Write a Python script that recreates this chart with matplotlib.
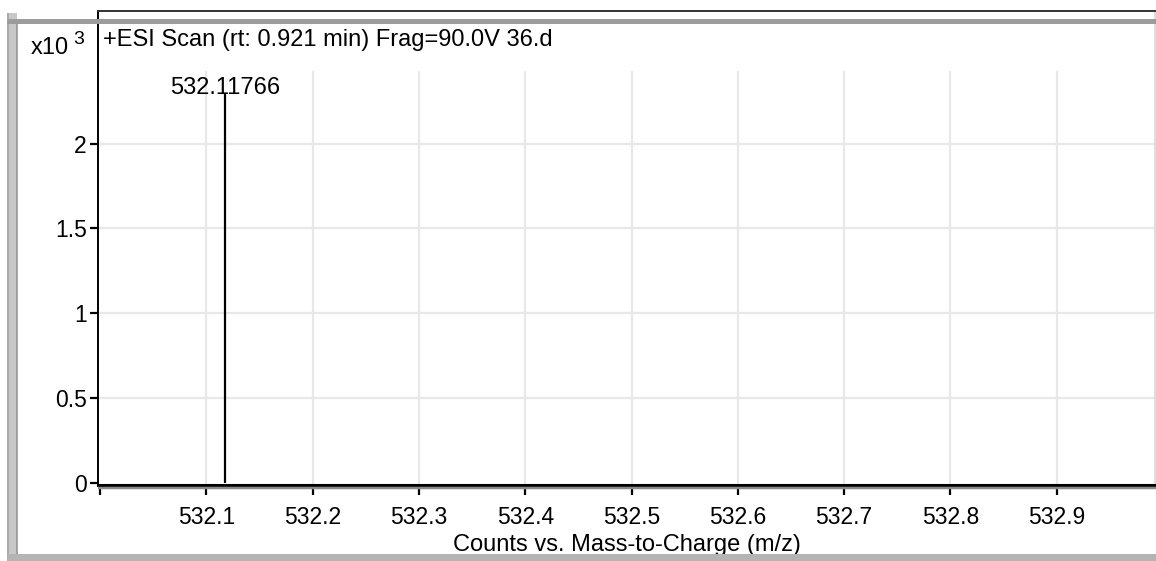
import matplotlib
matplotlib.use("Agg")
import matplotlib.pyplot as plt
from matplotlib.lines import Line2D

# ---- data ----
peak_mz = [532.11766]
peak_counts = [2300.0]          # counts
peak_labels = ["532.11766"]
x_ticks = [532.0, 532.1, 532.2, 532.3, 532.4, 532.5, 532.6, 532.7, 532.8, 532.9]
x_tick_labels = ["", "532.1", "532.2", "532.3", "532.4", "532.5", "532.6", "532.7", "532.8", "532.9"]
y_ticks = [0, 500, 1000, 1500, 2000]
y_tick_labels = ["0", "0.5", "1", "1.5", "2"]
title = "+ESI Scan (rt: 0.921 min) Frag=90.0V 36.d"
xlabel = "Counts vs. Mass-to-Charge (m/z)"

FONT = ["Liberation Sans", "DejaVu Sans"]
plt.rcParams["font.family"] = FONT

W, H = 1156, 561
fig = plt.figure(figsize=(W / 100, H / 100), dpi=100)
fig.patch.set_facecolor("white")

def fx(px):
    return px / W

def fy(py):
    return 1 - py / H

PT = 0.72  # points per pixel at dpi 100

def fig_line(xs, ys, color, lw_px, z=0):
    fig.lines.append(Line2D([fx(v) for v in xs], [fy(v) for v in ys],
                            transform=fig.transFigure, color=color,
                            lw=lw_px * PT, zorder=z, solid_capstyle="butt"))

# outer grey window frame
fig_line([12, 12], [13, 561], "#c8c8c8", 10)
fig_line([7.5, 7.5], [13, 561], "#a0a0a0", 1.5)
fig_line([16.5, 16.5], [21, 554], "#909090", 1.5)
fig_line([7, 1156], [20.5, 20.5], "#9c9c9c", 5)
fig_line([7, 1156], [557, 557], "#b4b4b4", 7)

ax_l, ax_r, ax_t, ax_b = 98, 1155, 11, 485
ax = fig.add_axes([fx(ax_l), fy(ax_b), fx(ax_r) - fx(ax_l), fy(ax_t) - fy(ax_b)])
ax.patch.set_alpha(0)

ax.set_xlim(531.998, 532.9925)
ax.set_ylim(-10, 2780)

# grid
grid_top = 2420
for xt in x_ticks[1:]:
    ax.plot([xt, xt], [0, grid_top], color="#e8e8e8", lw=1.6, zorder=1)
for yt in y_ticks[1:]:
    ax.axhline(yt, color="#e8e8e8", lw=1.6, zorder=1)

# peaks
ax.vlines(peak_mz, 0, peak_counts, color="black", lw=1.6, zorder=3)
for mz, c, lab in zip(peak_mz, peak_counts, peak_labels):
    ax.annotate(lab, (mz, c), xytext=(0, 3), textcoords="offset points",
                ha="center", va="center", fontsize=17, zorder=4)

# title inside axes
ax.text((103 - ax_l) / (ax_r - ax_l), 1 - (40 - ax_t) / (ax_b - ax_t), title,
        transform=ax.transAxes, ha="left", va="center", fontsize=17)

# ticks
ax.set_xticks(x_ticks)
ax.set_xticklabels(x_tick_labels)
ax.set_yticks(y_ticks)
ax.set_yticklabels(y_tick_labels)
ax.tick_params(axis="x", direction="out", length=7, width=1.6, pad=8, labelsize=16.5)
ax.tick_params(axis="y", direction="out", length=6, width=1.6, pad=2, labelsize=16.5)

ax.set_xlabel(xlabel, fontsize=17, labelpad=4)

ax.spines["left"].set_linewidth(1.4)
ax.spines["left"].set_color("black")
ax.spines["top"].set_linewidth(1.4)
ax.spines["top"].set_color("#333333")
ax.spines["bottom"].set_linewidth(2.2)
ax.spines["bottom"].set_color("black")
ax.spines["right"].set_linewidth(1.2)
ax.spines["right"].set_color("#d8d8d8")

# grey shadow line under the x axis
fig_line([ax_l, 1156], [488, 488], "#8a8a8a", 2.5, z=3)

# x10^3 multiplier
fig.text(fx(31), fy(48), "x10", ha="left", va="center", fontsize=17)
fig.text(fx(73), fy(40), "3", ha="left", va="center", fontsize=14)

fig.savefig("out.png", dpi=100)
